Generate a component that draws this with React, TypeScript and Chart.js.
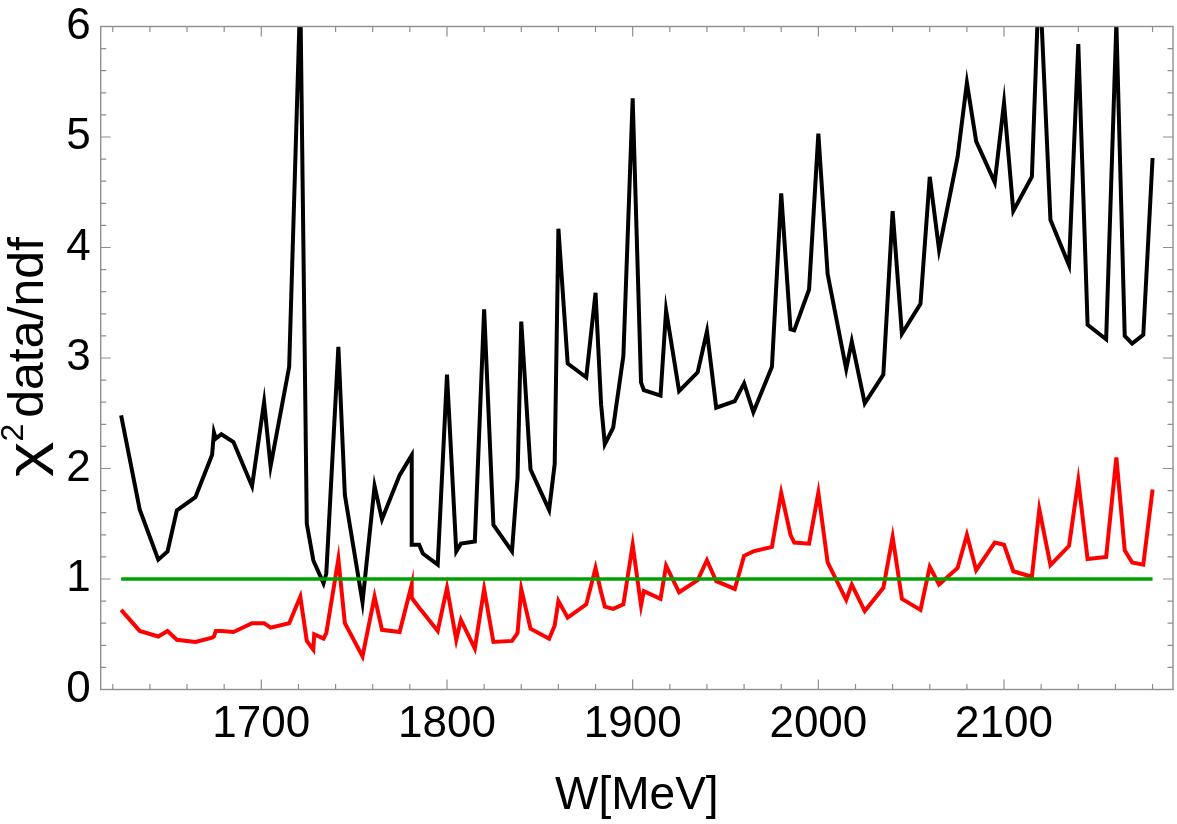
import React, { useEffect, useRef } from 'react';
import { Chart, registerables } from 'chart.js';

Chart.register(...registerables);

// Energies W [MeV]
const W = [
  1624.5, 1634.5, 1644.5, 1649.5, 1654.5, 1664.5, 1673.5, 1674.5, 1675.5, 1678.5,
  1685, 1695, 1701.5, 1705, 1715, 1721, 1724.5, 1728, 1728.5, 1733.5,
  1735, 1741.5, 1745, 1754.5, 1761, 1765, 1774.5, 1781, 1781, 1785,
  1787, 1795, 1800, 1805, 1807.5, 1815, 1820, 1825, 1835, 1838,
  1840, 1845, 1855, 1858, 1860, 1865, 1875, 1880, 1883, 1885,
  1889.5, 1895, 1900, 1904.5, 1906, 1915, 1918, 1925, 1935, 1940,
  1945, 1955, 1960, 1965, 1975, 1980, 1985, 1987, 1995, 2000,
  2005, 2015, 2018, 2025, 2035, 2040, 2045, 2055, 2060, 2065,
  2075, 2080, 2085, 2095, 2100, 2105, 2115, 2119, 2125, 2135,
  2140, 2145, 2155, 2160.5, 2165, 2169, 2175, 2180,
];

// chi^2 data/ndf, black curve
const chiBlack = [
  2.48, 1.63, 1.175, 1.25, 1.62, 1.74, 2.125, 2.325, 2.27, 2.31,
  2.24, 1.84, 2.6, 2.02, 2.92, 6.3, 1.5, 1.17, 1.15, 0.96,
  1.05, 3.1, 1.76, 0.79, 1.84, 1.54, 1.94, 2.12, 1.31, 1.31,
  1.23, 1.13, 2.85, 1.25, 1.32, 1.34, 3.44, 1.49, 1.25, 1.92,
  3.33, 1.99, 1.625, 2.04, 4.17, 2.95, 2.825, 3.59, 2.58, 2.22,
  2.37, 3.02, 5.35, 2.78, 2.71, 2.66, 3.43, 2.7, 2.87, 3.24,
  2.55, 2.61, 2.77, 2.51, 2.92, 4.49, 3.26, 3.25, 3.62, 5.03,
  3.76, 2.9, 3.15, 2.59, 2.85, 4.33, 3.22, 3.49, 4.64, 3.98,
  4.82, 5.49, 4.96, 4.59, 5.31, 4.33, 4.64, 6.5, 4.25, 3.84,
  5.84, 3.3, 3.17, 6.03, 3.2, 3.13, 3.21, 4.81,
];

// chi^2 data/ndf, red curve
const chiRed = [
  0.72, 0.53, 0.48, 0.53, 0.45, 0.43, 0.47, 0.48, 0.53, 0.53,
  0.52, 0.6, 0.6, 0.56, 0.6, 0.84, 0.44, 0.36, 0.5, 0.46,
  0.51, 1.18, 0.6, 0.3, 0.84, 0.54, 0.52, 0.95, 0.83, 0.74,
  0.7, 0.53, 0.92, 0.45, 0.63, 0.37, 0.91, 0.43, 0.44, 0.51,
  0.91, 0.55, 0.46, 0.58, 0.8, 0.65, 0.77, 1.1, 0.88, 0.75,
  0.73, 0.77, 1.31, 0.76, 0.89, 0.82, 1.12, 0.88, 0.99, 1.17,
  0.98, 0.91, 1.21, 1.25, 1.29, 1.78, 1.4, 1.33, 1.32, 1.78,
  1.15, 0.81, 0.95, 0.71, 0.92, 1.38, 0.82, 0.72, 1.11, 0.95,
  1.1, 1.4, 1.08, 1.33, 1.31, 1.07, 1.02, 1.63, 1.125, 1.3,
  1.89, 1.18, 1.2, 2.1, 1.26, 1.15, 1.13, 1.81,
];

// reference line chi^2 = 1
const refW = [1624.5, 2180];
const refValue = [1, 1];

// axes
const xRange = [1613.5, 2191];
const yRange = [0, 6];
const xTickLabels = [1700, 1800, 1900, 2000, 2100];
const xMinorTicks = [
  1620, 1640, 1660, 1680, 1720, 1740, 1760, 1780, 1820, 1840, 1860, 1880,
  1920, 1940, 1960, 1980, 2020, 2040, 2060, 2080, 2120, 2140, 2160, 2180,
];
const yTickLabels = [0, 1, 2, 3, 4, 5, 6];
const yMinorTicks = [
  0.2, 0.4, 0.6, 0.8, 1.2, 1.4, 1.6, 1.8, 2.2, 2.4, 2.6, 2.8,
  3.2, 3.4, 3.6, 3.8, 4.2, 4.4, 4.6, 4.8, 5.2, 5.4, 5.6, 5.8,
];

const xTitle = 'W[MeV]';
const yTitleSymbol = 'χ';
const yTitleSup = '2';
const yTitleRest = 'data/ndf';

const FONT = '"Liberation Sans", Arial, sans-serif';
const FRAME = '#8f8f8f';

const frameTicks = {
  id: 'frameTicks',
  beforeDatasetsDraw(chart: any) {
    const { ctx, chartArea, scales } = chart;
    const { left, right, top, bottom } = chartArea;
    const x = scales.x;
    const y = scales.y;
    ctx.save();
    ctx.strokeStyle = FRAME;
    ctx.lineWidth = 1.2;
    ctx.beginPath();
    const xt = (v: number, len: number) => {
      const px = x.getPixelForValue(v);
      ctx.moveTo(px, bottom);
      ctx.lineTo(px, bottom - len);
      ctx.moveTo(px, top);
      ctx.lineTo(px, top + len);
    };
    const yt = (v: number, len: number) => {
      const py = y.getPixelForValue(v);
      ctx.moveTo(left, py);
      ctx.lineTo(left + len, py);
      ctx.moveTo(right, py);
      ctx.lineTo(right - len, py);
    };
    xTickLabels.forEach((v) => xt(v, 10));
    xMinorTicks.forEach((v) => xt(v, 5.5));
    yTickLabels.forEach((v) => yt(v, 10));
    yMinorTicks.forEach((v) => yt(v, 5.5));
    ctx.stroke();
    ctx.restore();
  },
  afterDatasetsDraw(chart: any) {
    const { ctx, chartArea } = chart;
    const { left, right, top, bottom } = chartArea;
    ctx.save();
    ctx.strokeStyle = FRAME;
    ctx.lineWidth = 1.4;
    ctx.strokeRect(left, top, right - left, bottom - top);
    ctx.restore();
  },
  afterDraw(chart: any) {
    // y-axis title with a real superscript
    const { ctx } = chart;
    ctx.save();
    ctx.fillStyle = '#000';
    ctx.textBaseline = 'alphabetic';
    ctx.textAlign = 'left';
    ctx.translate(43, 477);
    ctx.rotate(-Math.PI / 2);
    let pos = 0;
    ctx.font = `50px ${FONT}`;
    const chiW = ctx.measureText(yTitleSymbol).width;
    ctx.save();
    ctx.scale(1.35, 1);
    ctx.fillText(yTitleSymbol, 0, 0);
    ctx.restore();
    pos += chiW * 1.35;
    ctx.font = `32px ${FONT}`;
    ctx.fillText(yTitleSup, pos, -20);
    pos += ctx.measureText(yTitleSup).width + 6;
    ctx.font = `50px ${FONT}`;
    ctx.fillText(yTitleRest, pos, 0);
    ctx.restore();
  },
};

export default function App() {
  const ref = useRef<HTMLCanvasElement>(null);

  useEffect(() => {
    document.body.style.margin = '0';
    document.body.style.overflow = 'hidden';
    const canvas = ref.current;
    if (!canvas) return;

    const chart = new Chart(canvas, {
      type: 'line',
      data: {
        datasets: [
          {
            label: 'χ² = 1',
            data: refW.map((w, i) => ({ x: w, y: refValue[i] })),
            borderColor: '#00a000',
            borderWidth: 3.4,
            pointRadius: 0,
            order: 0,
          },
          {
            label: 'red',
            data: W.map((w, i) => ({ x: w, y: chiRed[i] })),
            borderColor: '#ff0000',
            borderWidth: 4,
            pointRadius: 0,
            order: 1,
          },
          {
            label: 'black',
            data: W.map((w, i) => ({ x: w, y: chiBlack[i] })),
            borderColor: '#000000',
            borderWidth: 4,
            pointRadius: 0,
            order: 2,
          },
        ],
      },
      options: {
        animation: false,
        responsive: false,
        devicePixelRatio: 1,
        layout: { padding: { top: 0, right: 4, left: 0, bottom: 0 } },
        plugins: {
          legend: { display: false },
          tooltip: { enabled: false },
        },
        elements: { line: { tension: 0 } },
        scales: {
          x: {
            type: 'linear',
            min: xRange[0],
            max: xRange[1],
            grid: { display: false, drawTicks: false },
            border: { display: false },
            afterBuildTicks: (scale: any) => {
              scale.ticks = xTickLabels.map((v) => ({ value: v }));
            },
            afterFit: (scale: any) => {
              scale.height = 134.5;
              scale.paddingLeft = 0;
              scale.paddingRight = 0;
            },
            ticks: {
              autoSkip: false,
              maxRotation: 0,
              padding: 9,
              color: '#000',
              font: { family: FONT, size: 44 },
              callback: (v: any) => String(v),
            },
            title: {
              display: true,
              text: xTitle,
              color: '#000',
              font: { family: FONT, size: 46 },
              padding: { top: 0, bottom: 0 },
            },
          },
          y: {
            type: 'linear',
            min: yRange[0],
            max: yRange[1],
            grid: { display: false, drawTicks: false },
            border: { display: false },
            afterBuildTicks: (scale: any) => {
              scale.ticks = yTickLabels.map((v) => ({ value: v }));
            },
            afterFit: (scale: any) => {
              scale.width = 100.7;
              scale.paddingTop = 26.5;
              scale.paddingBottom = 0;
            },
            ticks: {
              autoSkip: false,
              padding: 10,
              color: '#000',
              font: { family: FONT, size: 44 },
              callback: (v: any) => String(v),
            },
            title: { display: false },
          },
        },
      },
      plugins: [frameTicks],
    });

    return () => chart.destroy();
  }, []);

  return (
    <div style={{ width: 1177, height: 824 }}>
      <canvas ref={ref} width={1177} height={824} style={{ display: 'block' }} />
    </div>
  );
}
